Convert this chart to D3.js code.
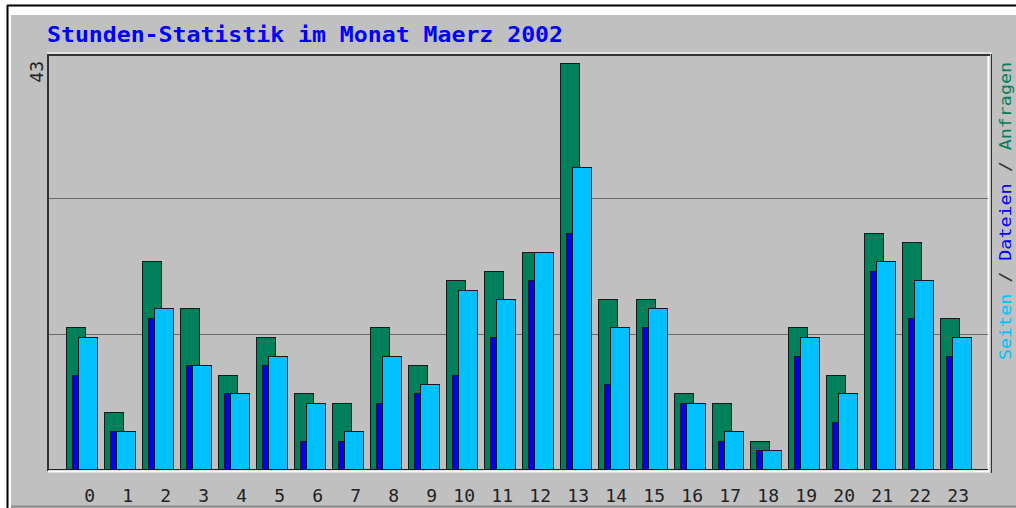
<!DOCTYPE html>
<html>
<head>
<meta charset="utf-8">
<script src="https://cdn.jsdelivr.net/npm/d3@7"></script>
<style>
  body { margin: 0; background: #fff; }
</style>
</head>
<body>
<div id="hourChart"></div>
<script>
// data
var hours = d3.range(0, 24);
var anfragen = [15, 6, 22, 17, 10, 14, 8, 7, 15, 11, 20, 21, 23, 43, 18, 18, 8, 7, 3, 15, 10, 25, 24, 16];
var dateien  = [10, 4, 16, 11, 8, 11, 3, 3, 7, 8, 10, 14, 20, 25, 9, 15, 7, 3, 2, 12, 5, 21, 16, 12];
var seiten   = [14, 4, 17, 11, 8, 12, 7, 4, 12, 9, 19, 18, 23, 32, 15, 17, 7, 4, 2, 14, 8, 22, 20, 14];
var maxLabel = "43";
var title = "Stunden-Statistik im Monat Maerz 2002";

var W = 1016, H = 508;

var svg = d3.select("#hourChart")
  .append("svg")
    .attr("width", W)
    .attr("height", H);

// outer frame
svg.append("rect").attr("x", 0).attr("y", 0).attr("width", W).attr("height", H).attr("fill", "#fff");
svg.append("rect").attr("x", 11).attr("y", 15).attr("width", W - 11).attr("height", H - 15).attr("fill", "#c0c0c0");
svg.append("line").attr("x1", 7.5).attr("x2", 7.5).attr("y1", 5).attr("y2", H).attr("stroke", "#000").attr("stroke-width", 2);
svg.append("line").attr("x1", 7).attr("x2", W).attr("y1", 5.5).attr("y2", 5.5).attr("stroke", "#000").attr("stroke-width", 2);
svg.append("line").attr("x1", 11).attr("x2", W).attr("y1", 506.5).attr("y2", 506.5).attr("stroke", "#8a8a8a").attr("stroke-width", 2);

// title
svg.append("text")
  .attr("x", 47).attr("y", 42)
  .attr("textLength", 516).attr("lengthAdjust", "spacingAndGlyphs")
  .style("font-family", "DejaVu Sans Mono")
  .style("font-weight", "bold")
  .style("font-size", "21px")
  .style("fill", "#0000ff")
  .text(title);

// plot area
var plotLeft = 48, plotTop = 55, plotRight = 990, base = 469;

var x = d3.scaleBand()
  .domain(hours)
  .range([62, 62 + 24 * 38]);

var y = d3.scaleLinear()
  .domain([0, 43])
  .range([base, 63]);

// frame lines (dark top/left, light bottom/right)
svg.append("path")
  .attr("d", "M" + (plotLeft - 1) + "," + (plotTop - 2) + "H" + (plotRight + 2))
  .attr("fill", "none").attr("stroke", "#fff").attr("stroke-width", 1);
svg.append("path")
  .attr("d", "M" + plotLeft + "," + (base + 2) + "V" + plotTop + "H" + plotRight)
  .attr("fill", "none").attr("stroke", "#333").attr("stroke-width", 2);
svg.append("path")
  .attr("d", "M" + plotLeft + "," + (base + 2.5) + "H" + (plotRight - 1.5) + "V" + (plotTop + 1))
  .attr("fill", "none").attr("stroke", "#fff").attr("stroke-width", 2);
svg.append("line")
  .attr("x1", plotRight + 1.5).attr("x2", plotRight + 1.5).attr("y1", plotTop - 1).attr("y2", base + 4)
  .attr("stroke", "#333").attr("stroke-width", 1);
svg.append("line")
  .attr("x1", plotLeft).attr("x2", plotRight - 2).attr("y1", base + 0.5).attr("y2", base + 0.5)
  .attr("stroke", "#222").attr("stroke-width", 1);

// grid lines at 1/3 and 2/3 of the max
svg.selectAll("line.grid")
  .data([43 / 3, 86 / 3])
  .enter()
  .append("line")
    .attr("class", "grid")
    .attr("x1", plotLeft + 1).attr("x2", plotRight - 2)
    .attr("y1", function(d) { return Math.round(y(d)) + 0.5; })
    .attr("y2", function(d) { return Math.round(y(d)) + 0.5; })
    .attr("stroke", "#6a6a6a").attr("stroke-width", 1);

// bars
var series = [
  { vals: anfragen, off: 4,  color: "#00805a" },
  { vals: dateien,  off: 10, color: "#0000ff" },
  { vals: seiten,   off: 16, color: "#00c0ff" }
];

series.forEach(function(s) {
  svg.selectAll(null)
    .data(hours)
    .enter()
    .append("rect")
      .attr("x", function(d) { return x(d) + s.off + 0.5; })
      .attr("y", function(d) { return Math.round(y(s.vals[d])) + 0.5; })
      .attr("width", 19)
      .attr("height", function(d) { return base - Math.round(y(s.vals[d])); })
      .attr("fill", s.color)
      .attr("stroke", "#1a1a1a")
      .attr("stroke-width", 1);
});

// hour labels
svg.selectAll("text.hour")
  .data(hours)
  .enter()
  .append("text")
    .attr("class", "hour")
    .attr("x", function(d) { return x(d) + 33; })
    .attr("y", 502)
    .style("text-anchor", "end")
    .style("font-family", "DejaVu Sans Mono")
    .style("font-size", "18px")
    .style("fill", "#222")
    .text(function(d) { return d; });

// max label
svg.append("text")
  .attr("transform", "translate(43,61)rotate(-90)")
  .style("text-anchor", "end")
  .style("font-family", "DejaVu Sans Mono")
  .style("font-size", "18px")
  .style("fill", "#222")
  .text(maxLabel);

// legend on the right
var legend = svg.append("text")
  .attr("transform", "translate(1011,360)rotate(-90)")
  .attr("textLength", 298).attr("lengthAdjust", "spacingAndGlyphs")
  .style("font-family", "DejaVu Sans Mono")
  .style("font-size", "16px");
legend.append("tspan").style("fill", "#00c0ff").text("Seiten");
legend.append("tspan").style("fill", "#333").text(" / ");
legend.append("tspan").style("fill", "#0000ff").text("Dateien");
legend.append("tspan").style("fill", "#333").text(" / ");
legend.append("tspan").style("fill", "#00805a").text("Anfragen");
</script>
</body>
</html>
